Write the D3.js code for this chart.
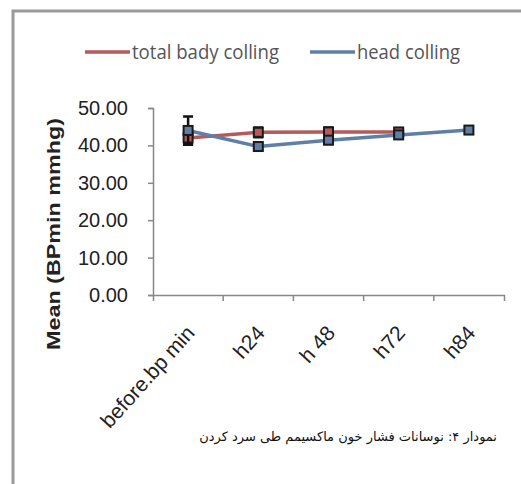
<!DOCTYPE html>
<html lang="en">
<head>
    <meta charset="UTF-8">
    <title>Mean BPmin</title>
    <style>
        body { margin: 0; background: #fff; }
    </style>
</head>
<body>
    <svg width="521" height="484" id="svg"></svg>
    <script src="https://d3js.org/d3.v7.min.js"></script>
    <script>
        // data
        var categories = ["before.bp min", "h24", "h 48", "h72", "h84"];
        var totalBody = [42.0, 43.5, 43.6, 43.6, null];
        var totalBodyErr = [1.8, 1.3, 1.2, 1.0, null];
        var headCool = [44.0, 39.7, 41.4, 42.8, 44.1];
        var headCoolErr = [3.7, 1.0, 1.0, 0.9, 0.6];
        var yTicks = [0, 10, 20, 30, 40, 50];
        var seriesNames = ["total bady colling", "head colling"];
        var caption = "نمودار ۴: نوسانات فشار خون ماکسیمم طی سرد کردن";

        var svg = d3.select("svg");

        // frame
        svg.append("path")
            .attr("d", "M13,484 L13,11 L521,11")
            .attr("fill", "none")
            .attr("stroke", "#9a9a9a")
            .attr("stroke-width", 3);

        var x = d3.scaleBand().domain(categories).range([153, 504]);
        var y = d3.scaleLinear().domain([0, 50]).range([295, 108]);

        // y axis
        var gy = svg.append("g")
            .attr("transform", "translate(153,0)")
            .call(d3.axisLeft(y).tickValues(yTicks).tickSize(5).tickSizeOuter(5)
                .tickFormat(d3.format(".2f")));
        gy.select(".domain").attr("stroke", "#888").attr("stroke-width", 1.5);
        gy.selectAll(".tick line").attr("stroke", "#888").attr("stroke-width", 1.5);
        gy.selectAll(".tick text")
            .attr("x", -25)
            .attr("font-family", "Arial, 'Liberation Sans', sans-serif")
            .attr("font-size", 20)
            .attr("fill", "#222");

        // x axis with ticks at category boundaries
        var gx = svg.append("g")
            .attr("transform", "translate(0,295)")
            .call(d3.axisBottom(x).tickSize(0).tickSizeOuter(6));
        gx.select(".domain").attr("stroke", "#888").attr("stroke-width", 1.5);
        gx.selectAll(".tick text")
            .attr("font-family", "Arial, 'Liberation Sans', sans-serif")
            .attr("font-size", 21)
            .attr("fill", "#222")
            .attr("text-anchor", "end")
            .attr("transform", "translate(0,32) rotate(-48)")
            .attr("dy", "0.35em");
        gx.selectAll(".bound")
            .data(categories.slice(1))
            .enter().append("line")
            .attr("x1", function (d) { return x(d); })
            .attr("x2", function (d) { return x(d); })
            .attr("y1", 0).attr("y2", 6)
            .attr("stroke", "#888").attr("stroke-width", 1.5);

        // y title
        svg.append("text")
            .attr("transform", "translate(60,234) rotate(-90)")
            .attr("text-anchor", "middle")
            .attr("font-family", "Arial, 'Liberation Sans', sans-serif")
            .attr("font-weight", "bold")
            .attr("font-size", 19)
            .attr("textLength", 232)
            .attr("lengthAdjust", "spacingAndGlyphs")
            .attr("fill", "#222")
            .text("Mean (BPmin mmhg)");

        var series = [
            { name: seriesNames[0], values: totalBody, err: totalBodyErr, color: "#b55a5a" },
            { name: seriesNames[1], values: headCool, err: headCoolErr, color: "#5f7fa6" }
        ];

        var cx = function (i) { return x(categories[i]) + x.bandwidth() / 2; };
        var line = d3.line()
            .defined(function (d) { return d != null; })
            .x(function (d, i) { return cx(i); })
            .y(function (d) { return y(d); });

        series.forEach(function (s) {
            svg.append("path")
                .datum(s.values)
                .attr("fill", "none")
                .attr("stroke", s.color)
                .attr("stroke-width", 3.5)
                .attr("d", line);
        });

        series.forEach(function (s) {
            var pts = s.values.map(function (v, i) { return { v: v, e: s.err[i], i: i }; })
                .filter(function (p) { return p.v != null; });
            var g = svg.append("g");
            g.selectAll(".eb").data(pts).enter().append("path")
                .attr("fill", "none")
                .attr("stroke", "#111")
                .attr("stroke-width", 2.5)
                .attr("d", function (p) {
                    var c = cx(p.i), t = y(p.v + p.e), b = y(p.v - p.e);
                    return "M" + (c - 5) + "," + t + "H" + (c + 5) +
                        "M" + c + "," + t + "V" + b +
                        "M" + (c - 5) + "," + b + "H" + (c + 5);
                });
            g.selectAll(".mk").data(pts).enter().append("rect")
                .attr("x", function (p) { return cx(p.i) - 4.5; })
                .attr("y", function (p) { return y(p.v) - 4.5; })
                .attr("width", 9).attr("height", 9)
                .attr("fill", s.color)
                .attr("stroke", "#1a1a1a")
                .attr("stroke-width", 2);
        });

        // legend
        var legX = [85, 310];
        var legW = [147, 103];
        series.forEach(function (s, i) {
            svg.append("line")
                .attr("x1", legX[i]).attr("x2", legX[i] + 45)
                .attr("y1", 52).attr("y2", 52)
                .attr("stroke", s.color).attr("stroke-width", 3.5);
            svg.append("text")
                .attr("x", legX[i] + 47).attr("y", 59)
                .attr("font-family", "'Liberation Sans Narrow', 'Open Sans', sans-serif")
                .attr("font-size", 20)
                .attr("textLength", legW[i])
                .attr("lengthAdjust", "spacingAndGlyphs")
                .attr("fill", "#555")
                .text(s.name);
        });

        // caption
        svg.append("text")
            .attr("x", 497).attr("y", 441)
            .attr("text-anchor", "end")
            .attr("font-family", "'DejaVu Sans', sans-serif")
            .attr("font-size", 13)
            .attr("fill", "#111")
            .text(caption);
    </script>
</body>
</html>
